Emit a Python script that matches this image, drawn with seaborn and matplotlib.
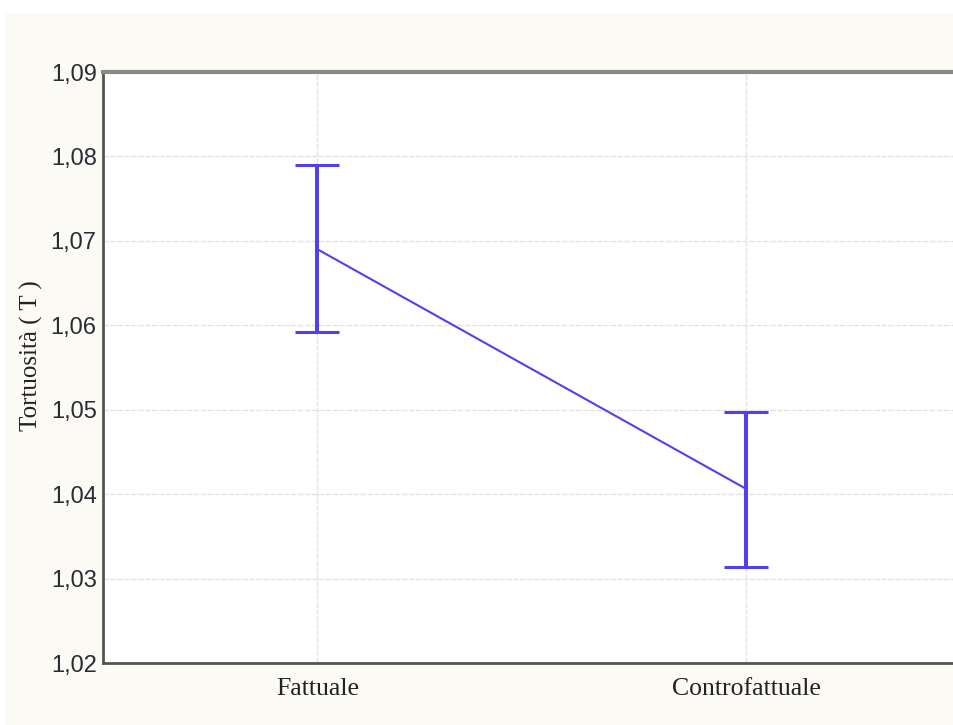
import matplotlib
matplotlib.use("Agg")
import matplotlib.pyplot as plt
from matplotlib.patches import Rectangle
import seaborn as sns
import pandas as pd
import numpy as np

categories = ["Fattuale", "Controfattuale"]
means = [1.0690, 1.0406]
lower = [1.0592, 1.0314]
upper = [1.0790, 1.0497]
yticks = [1.02, 1.03, 1.04, 1.05, 1.06, 1.07, 1.08, 1.09]
ytick_labels = ["1,02", "1,03", "1,04", "1,05", "1,06", "1,07", "1,08", "1,09"]

df = pd.DataFrame({"cond": categories, "mean": means, "lo": lower, "hi": upper})

sns.set_style("white")
plt.rcParams["font.family"] = ["Liberation Sans", "DejaVu Sans"]

color = "#5240ee"
W, H = 954, 725
fig = plt.figure(figsize=(W / 100, H / 100), dpi=100, facecolor="white")
bg = Rectangle((5 / W, 0), 1, 1 - 13 / H, transform=fig.transFigure,
               facecolor="#fcfaf4", edgecolor="none", zorder=-10)
fig.add_artist(bg)
ax = fig.add_axes([103 / W, 1 - 663 / H, (961 - 103) / W, (663 - 72) / H])
ax.set_zorder(1)
ax.set_facecolor("white")

sns.lineplot(data=df, x="cond", y="mean", ax=ax, color=color, linewidth=1.5, sort=False)
x = np.arange(len(categories))
m = np.array(means)
ax.errorbar(x, m, yerr=[m - np.array(lower), np.array(upper) - m], fmt="none",
            ecolor=color, elinewidth=2.9, capsize=15.5, capthick=2.2, zorder=3)

ax.set_xlim(-0.5, 1.5)
ax.set_ylim(1.02, 1.09)
ax.set_yticks(yticks)
ax.set_yticklabels(ytick_labels, fontsize=17, color="#2b2b35")
ax.set_xticks(x)
ax.set_xticklabels(categories, fontsize=18.5, family=["Liberation Serif"], color="#222222")
ax.set_xlabel("")
ax.set_ylabel("Tortuosità ( T )", fontsize=18, family=["Liberation Serif"], color="#222222")
ax.yaxis.set_label_coords((43 - 103) / 858, 0.52)

ax.grid(True, color="#e3e3e3", linewidth=1.0, linestyle=(0, (4, 1)))
ax.set_axisbelow(True)
for s in ["left", "bottom"]:
    ax.spines[s].set_color("#555555")
    ax.spines[s].set_linewidth(2)
ax.spines["top"].set_color("#8a8a8a")
ax.spines["top"].set_linewidth(3)
ax.spines["right"].set_visible(False)
ax.tick_params(axis="both", direction="inout", length=5, width=1.5, color="#333333")
ax.tick_params(axis="y", pad=2)
ax.tick_params(axis="x", pad=8)

fig.savefig("out.png", dpi=100, facecolor=fig.get_facecolor())
